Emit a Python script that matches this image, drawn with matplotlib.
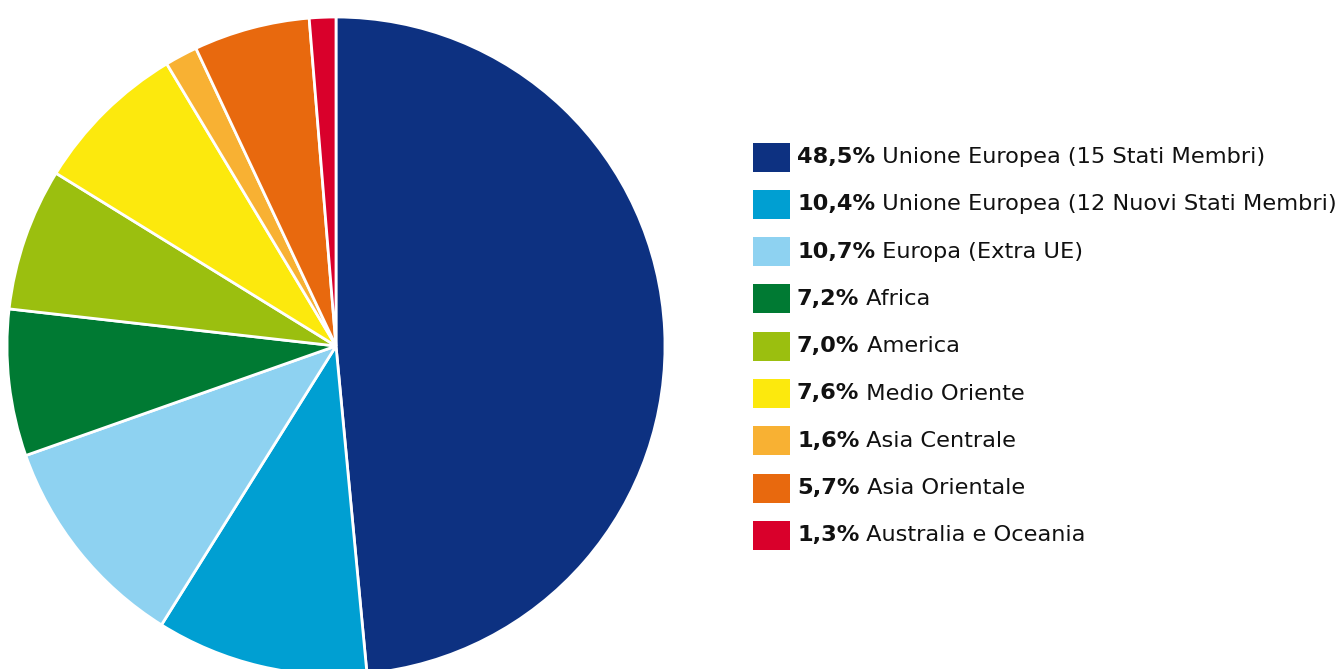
import matplotlib.pyplot as plt

# Share of visitors by area of origin
labels = [
    "Unione Europea (15 Stati Membri)",
    "Unione Europea (12 Nuovi Stati Membri)",
    "Europa (Extra UE)",
    "Africa",
    "America",
    "Medio Oriente",
    "Asia Centrale",
    "Asia Orientale",
    "Australia e Oceania",
]
shares = [48.5, 10.4, 10.7, 7.2, 7.0, 7.6, 1.6, 5.7, 1.3]
colors = ["#0d3181", "#009fd2", "#8ed2f1", "#007a33", "#9bbf0f",
          "#fce90d", "#f8b133", "#e8690e", "#d9002b"]

W, H = 1342, 669
fig = plt.figure(figsize=(W / 100, H / 100), dpi=100)
ax = fig.add_axes([0, 0, 1, 1])
ax.set_xlim(0, W)
ax.set_ylim(0, H)
ax.set_aspect("equal")
ax.axis("off")

ax.pie(shares, colors=colors, startangle=90, counterclock=False,
       center=(336, H - 346), radius=329,
       wedgeprops=dict(edgecolor="white", linewidth=2))
ax.set_xlim(0, W)
ax.set_ylim(0, H)

font = ["DejaVu Sans"]
y0, step = H - 157, 47.3
for i, (lab, val, col) in enumerate(zip(labels, shares, colors)):
    y = y0 - i * step
    ax.add_patch(plt.Rectangle((753, y - 14.5), 37, 29, facecolor=col,
                               edgecolor="none"))
    pct = f"{val:.1f}%".replace(".", ",")
    t = ax.text(797, y, pct, fontsize=16.2, fontweight="bold",
                family=font, va="center", ha="left", color="#111111")
    ax.annotate(" " + lab, xy=(1, 0), xycoords=t, fontsize=16.2,
                family=font, va="bottom", ha="left", color="#111111")

fig.savefig("out.png", dpi=100)
